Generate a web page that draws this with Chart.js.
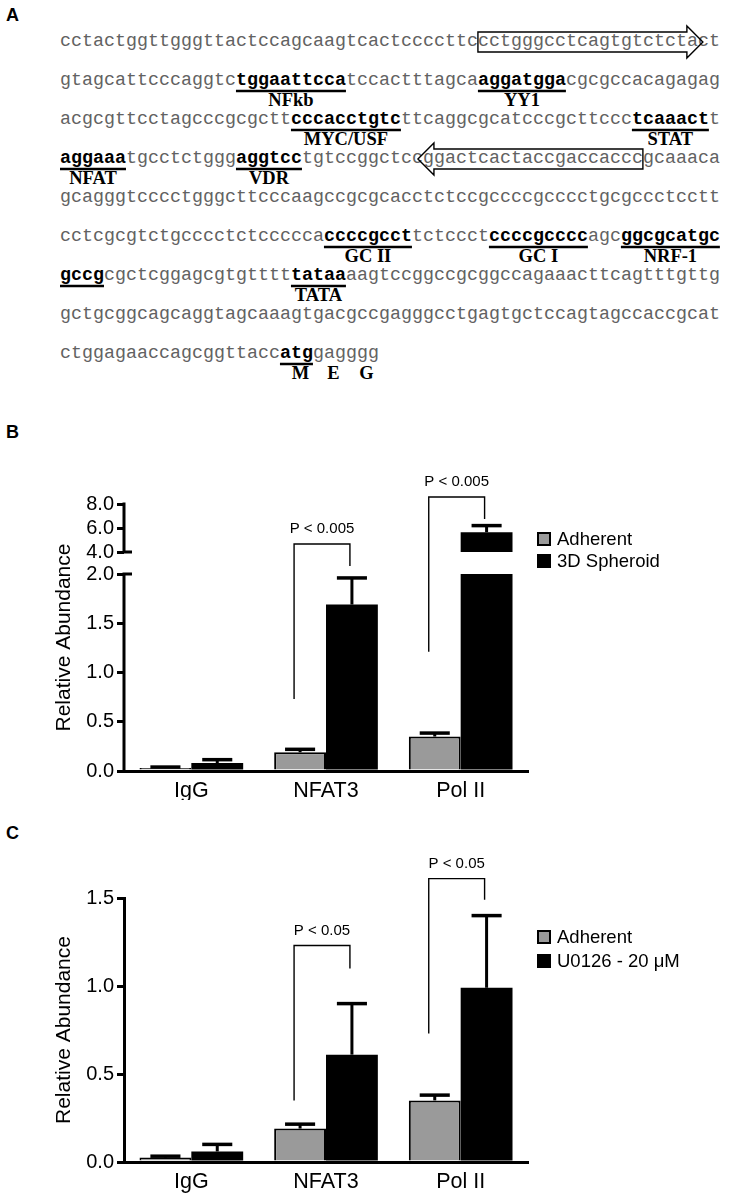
<!DOCTYPE html>
<html><head><meta charset="utf-8">
<script src="https://cdn.jsdelivr.net/npm/chart.js@4.4.1/dist/chart.umd.min.js"></script>
<style>
html,body{margin:0;padding:0;background:#fff;}
body{width:730px;height:1201px;position:relative;overflow:hidden;}
#seq{position:absolute;left:0;top:0;}
.plabel{position:absolute;font:bold 18px "Liberation Sans",Arial,sans-serif;line-height:18px;color:#000;}
.cv{position:absolute;left:0;}
</style></head><body>
<svg id="seq" width="730" height="400" xmlns="http://www.w3.org/2000/svg"></svg>
<div class="plabel" style="left:6px;top:6px">A</div>
<div class="plabel" style="left:6px;top:423px">B</div>
<div class="plabel" style="left:6px;top:824px">C</div>
<canvas id="cB" class="cv" width="730" height="360" style="top:440px"></canvas>
<canvas id="cC" class="cv" width="730" height="361" style="top:840px"></canvas>
<script>
// ---------------- DATA ----------------
// Panel A: promoter sequence rows; segments with a second entry are bold/underlined sites (label text, '' = no label)
const SEQ_ROWS = [
  [["cctactggttgggttactccagcaagtcactccccttccctgggcctcagtgtctctact"]],
  [["gtagcattcccaggtc"],["tggaattcca","NFkb"],["tccactttagca"],["aggatgga","YY1"],["cgcgccacagagag"]],
  [["acgcgttcctagcccgcgctt"],["cccacctgtc","MYC/USF"],["ttcaggcgcatcccgcttccc"],["tcaaact","STAT"],["t"]],
  [["aggaaa","NFAT"],["tgcctctggg"],["aggtcc","VDR"],["tgtccggctccggactcactaccgaccacccgcaaaca"]],
  [["gcagggtcccctgggcttcccaagccgcgcacctctccgccccgcccctgcgccctcctt"]],
  [["cctcgcgtctgcccctctccccca"],["ccccgcct","GC II"],["tctccct"],["ccccgcccc","GC I"],["agc"],["ggcgcatgc","NRF-1"]],
  [["gccg",""],["cgctcggagcgtgtttt"],["tataa","TATA"],["aagtccggccgcggccagaaacttcagtttgttg"]],
  [["gctgcggcagcaggtagcaaagtgacgccgagggcctgagtgctccagtagccaccgcat"]],
  [["ctggagaaccagcggttacc"],["atg",""],["gagggg"]]
];
const CODON_LABELS = ["M","E","G"];
// primer boxes: row index, first and last+1 nucleotide index, direction
const PRIMERS = [{row:0,start:38,end:57,dir:1},{row:3,start:34,end:53,dir:-1}];

// Panels B and C
const CATEGORIES = ["IgG","NFAT3","Pol II"];
const B_ADHERENT = [0.03, 0.19, 0.35];
const B_ADHERENT_ERR = [0.01, 0.03, 0.035];
const B_SPHEROID = [0.08, 1.69, 5.65];
const B_SPHEROID_ERR = [0.035, 0.27, 0.55];
const B_TICKS = [0, 0.5, 1.0, 1.5, 2.0, 4.0, 6.0, 8.0];
const B_SIG = [
  {cat:1, label:"P < 0.005", leftEnd:0.73, rightEnd:2.73, top:4.67},
  {cat:2, label:"P < 0.005", leftEnd:1.21, rightEnd:6.75, top:8.58}
];
const C_ADHERENT = [0.025, 0.19, 0.35];
const C_ADHERENT_ERR = [0.008, 0.025, 0.03];
const C_U0126 = [0.06, 0.61, 0.99];
const C_U0126_ERR = [0.04, 0.29, 0.41];
const C_TICKS = [0, 0.5, 1.0, 1.5];
const C_SIG = [
  {cat:1, label:"P < 0.05", leftEnd:0.35, rightEnd:1.10, top:1.23},
  {cat:2, label:"P < 0.05", leftEnd:0.73, rightEnd:1.49, top:1.61}
];

// ---------------- PANEL A (text) ----------------
const NS = 'http://www.w3.org/2000/svg';
const svg = document.getElementById('seq');
const FS = 18.33, CW = FS * 0.6, X0 = 60, ROW0 = 42, STEP = 39;
function mk(tag, attrs, text) {
  const e = document.createElementNS(NS, tag);
  for (const k in attrs) e.setAttribute(k, attrs[k]);
  if (text != null) e.textContent = text;
  svg.appendChild(e); return e;
}
let atgIndex = 0;
SEQ_ROWS.forEach((segs, r) => {
  const cy = ROW0 + r * STEP, base = cy + 4;
  let ci = 0;
  segs.forEach(seg => {
    const txt = seg[0], label = seg[1];
    const bold = label !== undefined;
    const x = X0 + ci * CW;
    mk('text', {x: x, y: base, 'font-family': 'Liberation Mono, Courier New, monospace', 'font-size': FS,
      'font-weight': bold ? 'bold' : 'normal', fill: bold ? '#000' : '#626262'}, txt);
    if (bold) {
      const w = txt.length * CW;
      mk('line', {x1: x, x2: x + w, y1: base + 6, y2: base + 6, stroke: '#000', 'stroke-width': 2.4});
      if (label) mk('text', {x: x + w / 2, y: cy + 25, 'text-anchor': 'middle', 'font-family': 'Liberation Serif, Times New Roman, serif',
        'font-weight': 'bold', 'font-size': 18.5, fill: '#000'}, label);
      if (txt === 'atg') atgIndex = ci;
    }
    ci += txt.length;
  });
});
{
  const cy = ROW0 + (SEQ_ROWS.length - 1) * STEP;
  CODON_LABELS.forEach((aa, k) => {
    mk('text', {x: X0 + (atgIndex + 3 * k + 1.5) * CW + 4, y: cy + 25, 'text-anchor': 'middle',
      'font-family': 'Liberation Serif, Times New Roman, serif', 'font-weight': 'bold', 'font-size': 18.5, fill: '#000'}, aa);
  });
}
PRIMERS.forEach(p => {
  const cy = ROW0 + p.row * STEP;
  const xs = X0 + p.start * CW, xe = X0 + p.end * CW;
  const bh = 10, hh = 16, hl = 16;
  let d;
  if (p.dir > 0) {
    d = `M${xs},${cy - bh} H${xe} V${cy - hh} L${xe + hl},${cy} L${xe},${cy + hh} V${cy + bh} H${xs} Z`;
  } else {
    d = `M${xe},${cy - bh} H${xs} V${cy - hh} L${xs - hl},${cy} L${xs},${cy + hh} V${cy + bh} H${xe} Z`;
  }
  mk('path', {d: d, fill: 'none', stroke: '#000', 'stroke-width': 1.4});
});

// ---------------- Broken y scale for panel B ----------------
const BRK = {low: 2, high: 4, lowFrac: 197 / 267, gapFrac: 22 / 267};
class BrokenLinearScale extends Chart.LinearScale {
  buildTicks() { return B_TICKS.map(v => ({value: v})); }
  _segs() {
    const H = this.bottom - this.top;
    const lowH = H * BRK.lowFrac, gapH = H * BRK.gapFrac;
    return {H, lowH, gapH, upH: H - lowH - gapH};
  }
  getPixelForValue(v) {
    const s = this._segs();
    if (v <= BRK.low) return this.bottom - (v - this.min) / (BRK.low - this.min) * s.lowH;
    if (v <= BRK.high) return this.bottom - s.lowH - (v - BRK.low) / (BRK.high - BRK.low) * s.gapH;
    return this.bottom - s.lowH - s.gapH - (v - BRK.high) / (this.max - BRK.high) * s.upH;
  }
  getValueForPixel(p) {
    const s = this._segs(); const d = this.bottom - p;
    if (d <= s.lowH) return this.min + d / s.lowH * (BRK.low - this.min);
    if (d <= s.lowH + s.gapH) return BRK.low + (d - s.lowH) / s.gapH * (BRK.high - BRK.low);
    return BRK.high + (d - s.lowH - s.gapH) / s.upH * (this.max - BRK.high);
  }
}
BrokenLinearScale.id = 'brokenLinear';
BrokenLinearScale.defaults = Chart.LinearScale.defaults;
Chart.register(BrokenLinearScale);

const GRAY = '#9a9a9a';
const SANS = '"Liberation Sans", Arial, sans-serif';

function annotPlugin(cfg) {
  return {
    id: 'annot',
    afterDraw(chart) {
      const ctx = chart.ctx, ca = chart.chartArea, y = chart.scales.y;
      ctx.save();
      // break gap
      if (cfg.broken) {
        const pLow = y.getPixelForValue(BRK.low), pHigh = y.getPixelForValue(BRK.high);
        ctx.fillStyle = '#fff';
        ctx.fillRect(ca.left + 2, pHigh, ca.right - ca.left, pLow - pHigh);
      }
      // error bars (upper only)
      cfg.errors.forEach((errs, di) => {
        const meta = chart.getDatasetMeta(di);
        const vals = chart.data.datasets[di].data;
        meta.data.forEach((el, i) => {
          const top = y.getPixelForValue(vals[i]);
          const ey = y.getPixelForValue(vals[i] + errs[i]);
          const cw = el.width * 0.58;
          ctx.strokeStyle = '#000'; ctx.lineWidth = 3; ctx.lineCap = 'butt';
          ctx.beginPath(); ctx.moveTo(el.x, top); ctx.lineTo(el.x, ey); ctx.stroke();
          ctx.lineWidth = 3.5;
          ctx.beginPath(); ctx.moveTo(el.x - cw / 2, ey); ctx.lineTo(el.x + cw / 2, ey); ctx.stroke();
        });
      });
      // broken axis segments
      if (cfg.broken) {
        const x = ca.left;
        ctx.strokeStyle = '#000'; ctx.lineWidth = 3;
        const p8 = y.getPixelForValue(y.max), p4 = y.getPixelForValue(BRK.high);
        const p2 = y.getPixelForValue(BRK.low), p0 = y.getPixelForValue(0);
        ctx.beginPath(); ctx.moveTo(x, p8 - 1.5); ctx.lineTo(x, p4); ctx.lineTo(x + 8, p4); ctx.stroke();
        ctx.beginPath(); ctx.moveTo(x + 8, p2); ctx.lineTo(x, p2); ctx.lineTo(x, p0 + 1.5); ctx.stroke();
      }
      // significance brackets
      const m0 = chart.getDatasetMeta(0).data, m1 = chart.getDatasetMeta(1).data;
      cfg.sig.forEach(s => {
        const xL = m0[s.cat].x - 6, xR = m1[s.cat].x - 2;
        const yL = y.getPixelForValue(s.leftEnd), yR = y.getPixelForValue(s.rightEnd), yT = y.getPixelForValue(s.top);
        ctx.strokeStyle = '#000'; ctx.lineWidth = 1.4;
        ctx.beginPath(); ctx.moveTo(xL, yL); ctx.lineTo(xL, yT); ctx.lineTo(xR, yT); ctx.lineTo(xR, yR); ctx.stroke();
        ctx.fillStyle = '#000'; ctx.font = '15px ' + SANS; ctx.textAlign = 'center'; ctx.textBaseline = 'middle';
        ctx.fillText(s.label, (xL + xR) / 2, yT - 15);
      });
      // legend
      chart.data.datasets.forEach((ds, i) => {
        const ly = cfg.legendY + i * cfg.legendStep;
        ctx.fillStyle = ds.backgroundColor; ctx.fillRect(538, ly - 6, 12, 12);
        ctx.strokeStyle = '#000'; ctx.lineWidth = 2; ctx.strokeRect(538, ly - 6, 12, 12);
        ctx.fillStyle = '#000'; ctx.font = '18.5px ' + SANS; ctx.textAlign = 'left'; ctx.textBaseline = 'middle';
        ctx.fillText(ds.label, 557, ly + 1);
      });
      ctx.restore();
    }
  };
}

function makeChart(id, opt) {
  return new Chart(document.getElementById(id), {
    type: 'bar',
    data: {
      labels: CATEGORIES,
      datasets: [
        {label: 'Adherent', data: opt.adh, backgroundColor: GRAY, borderColor: '#000', borderWidth: 2},
        {label: opt.label2, data: opt.trt, backgroundColor: '#000', borderColor: '#000', borderWidth: 0}
      ]
    },
    options: {
      responsive: false, animation: false, devicePixelRatio: 1,
      layout: {padding: {top: opt.padTop, right: 202, left: 0, bottom: 0}},
      datasets: {bar: {categoryPercentage: 0.77, barPercentage: 1.0}},
      plugins: {legend: {display: false}, tooltip: {enabled: false}},
      scales: {
        x: {
          type: 'category',
          grid: {display: false, drawTicks: false},
          border: {display: true, color: '#000', width: 3},
          ticks: {color: '#000', font: {family: SANS, size: 21.5}, padding: 7, maxRotation: 0, autoSkip: false},
          afterFit: s => { s.height = opt.xH; }
        },
        y: {
          type: opt.broken ? 'brokenLinear' : 'linear',
          min: 0, max: opt.max,
          afterBuildTicks: opt.broken ? undefined : (s => { s.ticks = C_TICKS.map(v => ({value: v})); }),
          grid: {drawOnChartArea: false, drawTicks: true, tickLength: 7, tickColor: '#000', tickWidth: 3, color: '#000', lineWidth: 3},
          border: {display: !opt.broken, color: '#000', width: 3},
          ticks: {color: '#000', font: {family: SANS, size: 20}, padding: 3, autoSkip: false,
            callback: v => Number(v).toFixed(1)},
          title: {display: true, text: 'Relative Abundance', color: '#000', font: {family: SANS, size: 21}, padding: {top: 52, bottom: 0}},
          afterFit: s => { s.width = 124; }
        }
      }
    },
    plugins: [annotPlugin({broken: opt.broken, errors: opt.errs, sig: opt.sig, legendY: opt.legendY, legendStep: opt.legendStep})]
  });
}

makeChart('cB', {adh: B_ADHERENT, trt: B_SPHEROID, label2: '3D Spheroid', errs: [B_ADHERENT_ERR, B_SPHEROID_ERR],
  sig: B_SIG, broken: true, max: 8, padTop: 64, xH: 29, legendY: 99, legendStep: 22});
makeChart('cC', {adh: C_ADHERENT, trt: C_U0126, label2: 'U0126 - 20 \u03BCM', errs: [C_ADHERENT_ERR, C_U0126_ERR],
  sig: C_SIG, broken: false, max: 1.5, padTop: 58, xH: 39, legendY: 97, legendStep: 24});
</script>
</body></html>
